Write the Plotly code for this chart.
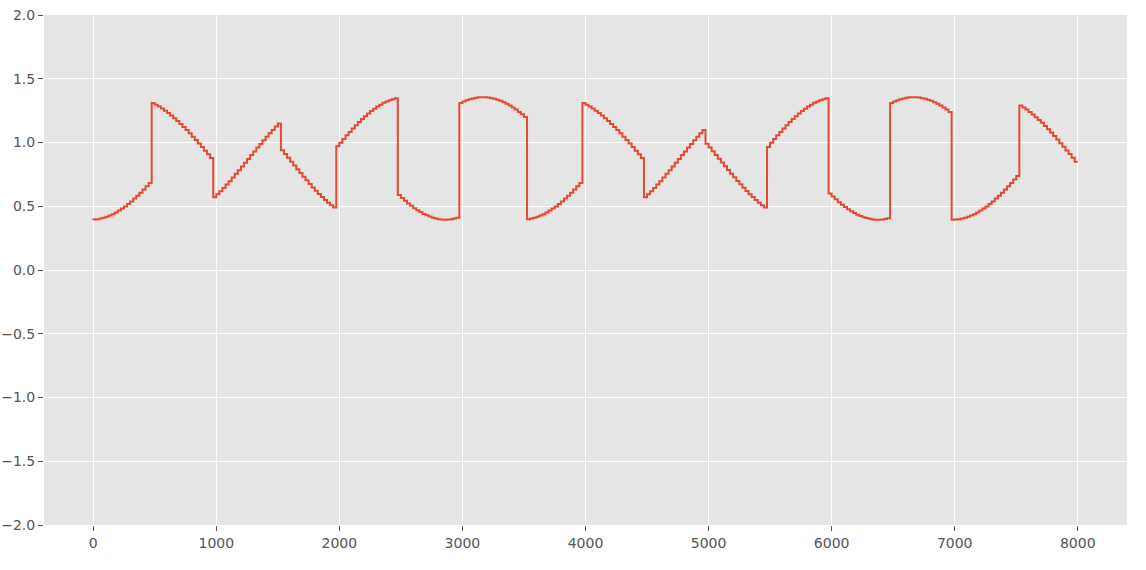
import numpy as np
import plotly.graph_objects as go

# sample spacing of the signal (x axis is the sample index)
sample_step = 25

# signal values, segment by segment
seg01 = [0.395, 0.396, 0.399, 0.403, 0.409, 0.417, 0.427, 0.438, 0.451, 0.466,
         0.482, 0.499, 0.518, 0.538, 0.560, 0.582, 0.606, 0.631, 0.656, 0.683]
seg02 = [1.310, 1.297, 1.283, 1.267, 1.250, 1.232, 1.212, 1.191, 1.169, 1.146,
         1.122, 1.098, 1.072, 1.046, 1.019, 0.992, 0.964, 0.936, 0.908, 0.879]
seg03 = [0.570, 0.594, 0.618, 0.644, 0.670, 0.697, 0.725, 0.754, 0.783, 0.812,
         0.841, 0.871, 0.901, 0.930, 0.960, 0.989, 1.017, 1.045, 1.073, 1.099,
         1.125, 1.150]
seg04 = [0.940, 0.910, 0.880, 0.850, 0.820, 0.790, 0.760, 0.731, 0.703, 0.675,
         0.648, 0.622, 0.597, 0.573, 0.550, 0.528, 0.508, 0.490]
seg05 = [0.970, 0.999, 1.028, 1.056, 1.083, 1.110, 1.136, 1.160, 1.184, 1.206,
         1.227, 1.247, 1.265, 1.282, 1.297, 1.311, 1.322, 1.332, 1.340, 1.347]
seg06 = [0.588, 0.565, 0.543, 0.522, 0.503, 0.485, 0.468, 0.454, 0.440, 0.429,
         0.419, 0.410, 0.404, 0.399, 0.396, 0.395, 0.396, 0.398, 0.403, 0.409]
seg07 = [1.310, 1.321, 1.331, 1.339, 1.346, 1.351, 1.354, 1.355, 1.355, 1.352,
         1.348, 1.343, 1.336, 1.327, 1.316, 1.304, 1.290, 1.275, 1.258, 1.240,
         1.221, 1.200]
seg08 = [0.399, 0.403, 0.409, 0.417, 0.427, 0.438, 0.451, 0.466, 0.482, 0.499,
         0.518, 0.538, 0.560, 0.582, 0.606, 0.631, 0.656, 0.683]
seg09 = [1.310, 1.297, 1.283, 1.267, 1.250, 1.232, 1.212, 1.191, 1.169, 1.146,
         1.122, 1.098, 1.072, 1.046, 1.019, 0.992, 0.964, 0.936, 0.908, 0.879]
seg10 = [0.570, 0.594, 0.618, 0.644, 0.670, 0.697, 0.725, 0.754, 0.783, 0.812,
         0.841, 0.871, 0.901, 0.930, 0.960, 0.989, 1.017, 1.045, 1.073, 1.099]
seg11 = [0.990, 0.961, 0.932, 0.902, 0.873, 0.843, 0.813, 0.784, 0.755, 0.727,
         0.699, 0.672, 0.645, 0.620, 0.595, 0.572, 0.549, 0.528, 0.508, 0.490]
seg12 = [0.965, 0.999, 1.028, 1.056, 1.083, 1.110, 1.136, 1.160, 1.184, 1.206,
         1.227, 1.247, 1.265, 1.282, 1.297, 1.311, 1.322, 1.332, 1.340, 1.347]
seg13 = [0.600, 0.576, 0.554, 0.532, 0.512, 0.494, 0.477, 0.461, 0.447, 0.434,
         0.423, 0.414, 0.407, 0.401, 0.397, 0.395, 0.395, 0.397, 0.400, 0.405]
seg14 = [1.310, 1.321, 1.331, 1.339, 1.346, 1.351, 1.354, 1.355, 1.355, 1.352,
         1.348, 1.343, 1.336, 1.327, 1.316, 1.304, 1.290, 1.275, 1.258, 1.240]
seg15 = [0.395, 0.396, 0.399, 0.403, 0.409, 0.417, 0.427, 0.438, 0.451, 0.466,
         0.482, 0.499, 0.518, 0.538, 0.560, 0.582, 0.606, 0.631, 0.656, 0.683,
         0.710, 0.738]
seg16 = [1.291, 1.275, 1.258, 1.240, 1.220, 1.199, 1.177, 1.154, 1.129, 1.104,
         1.078, 1.051, 1.024, 0.995, 0.967, 0.938, 0.909, 0.880, 0.850]

segments = [seg01, seg02, seg03, seg04, seg05, seg06, seg07, seg08,
            seg09, seg10, seg11, seg12, seg13, seg14, seg15, seg16]
signal = [v for seg in segments for v in seg]
sample_x = np.arange(len(signal)) * sample_step

x_ticks = [0, 1000, 2000, 3000, 4000, 5000, 6000, 7000, 8000]
x_tick_labels = ["0", "1000", "2000", "3000", "4000", "5000", "6000", "7000", "8000"]
y_ticks = [-2.0, -1.5, -1.0, -0.5, 0.0, 0.5, 1.0, 1.5, 2.0]
y_tick_labels = ["\u22122.0", "\u22121.5", "\u22121.0", "\u22120.5", "0.0", "0.5", "1.0", "1.5", "2.0"]

fig = go.Figure()
fig.add_trace(go.Scatter(
    x=sample_x, y=signal, mode="lines",
    line=dict(color="#E24A33", width=2, shape="vh"),
    showlegend=False,
))

axis_common = dict(
    showgrid=True, gridcolor="#FFFFFF", gridwidth=1.1,
    zeroline=False, showline=False, automargin=False,
    ticks="outside", ticklen=5, tickwidth=1, tickcolor="#555555",
    tickfont=dict(family="DejaVu Sans", size=14, color="#555555"),
)

fig.update_layout(
    width=1146, height=570,
    margin=dict(l=44, r=19, t=15, b=45),
    paper_bgcolor="#FFFFFF", plot_bgcolor="#E5E5E5",
    xaxis=dict(range=[-400, 8400], tickvals=x_ticks, ticktext=x_tick_labels, **axis_common),
    yaxis=dict(range=[-2.0, 2.0], tickvals=y_ticks, ticktext=y_tick_labels, **axis_common),
)

# remove the browser's default 8px body margin so the figure fills the window
fig.write_html("out.html",
               config={"displayModeBar": False},
               post_script="document.body.style.margin='0';document.body.style.overflow='hidden';")
